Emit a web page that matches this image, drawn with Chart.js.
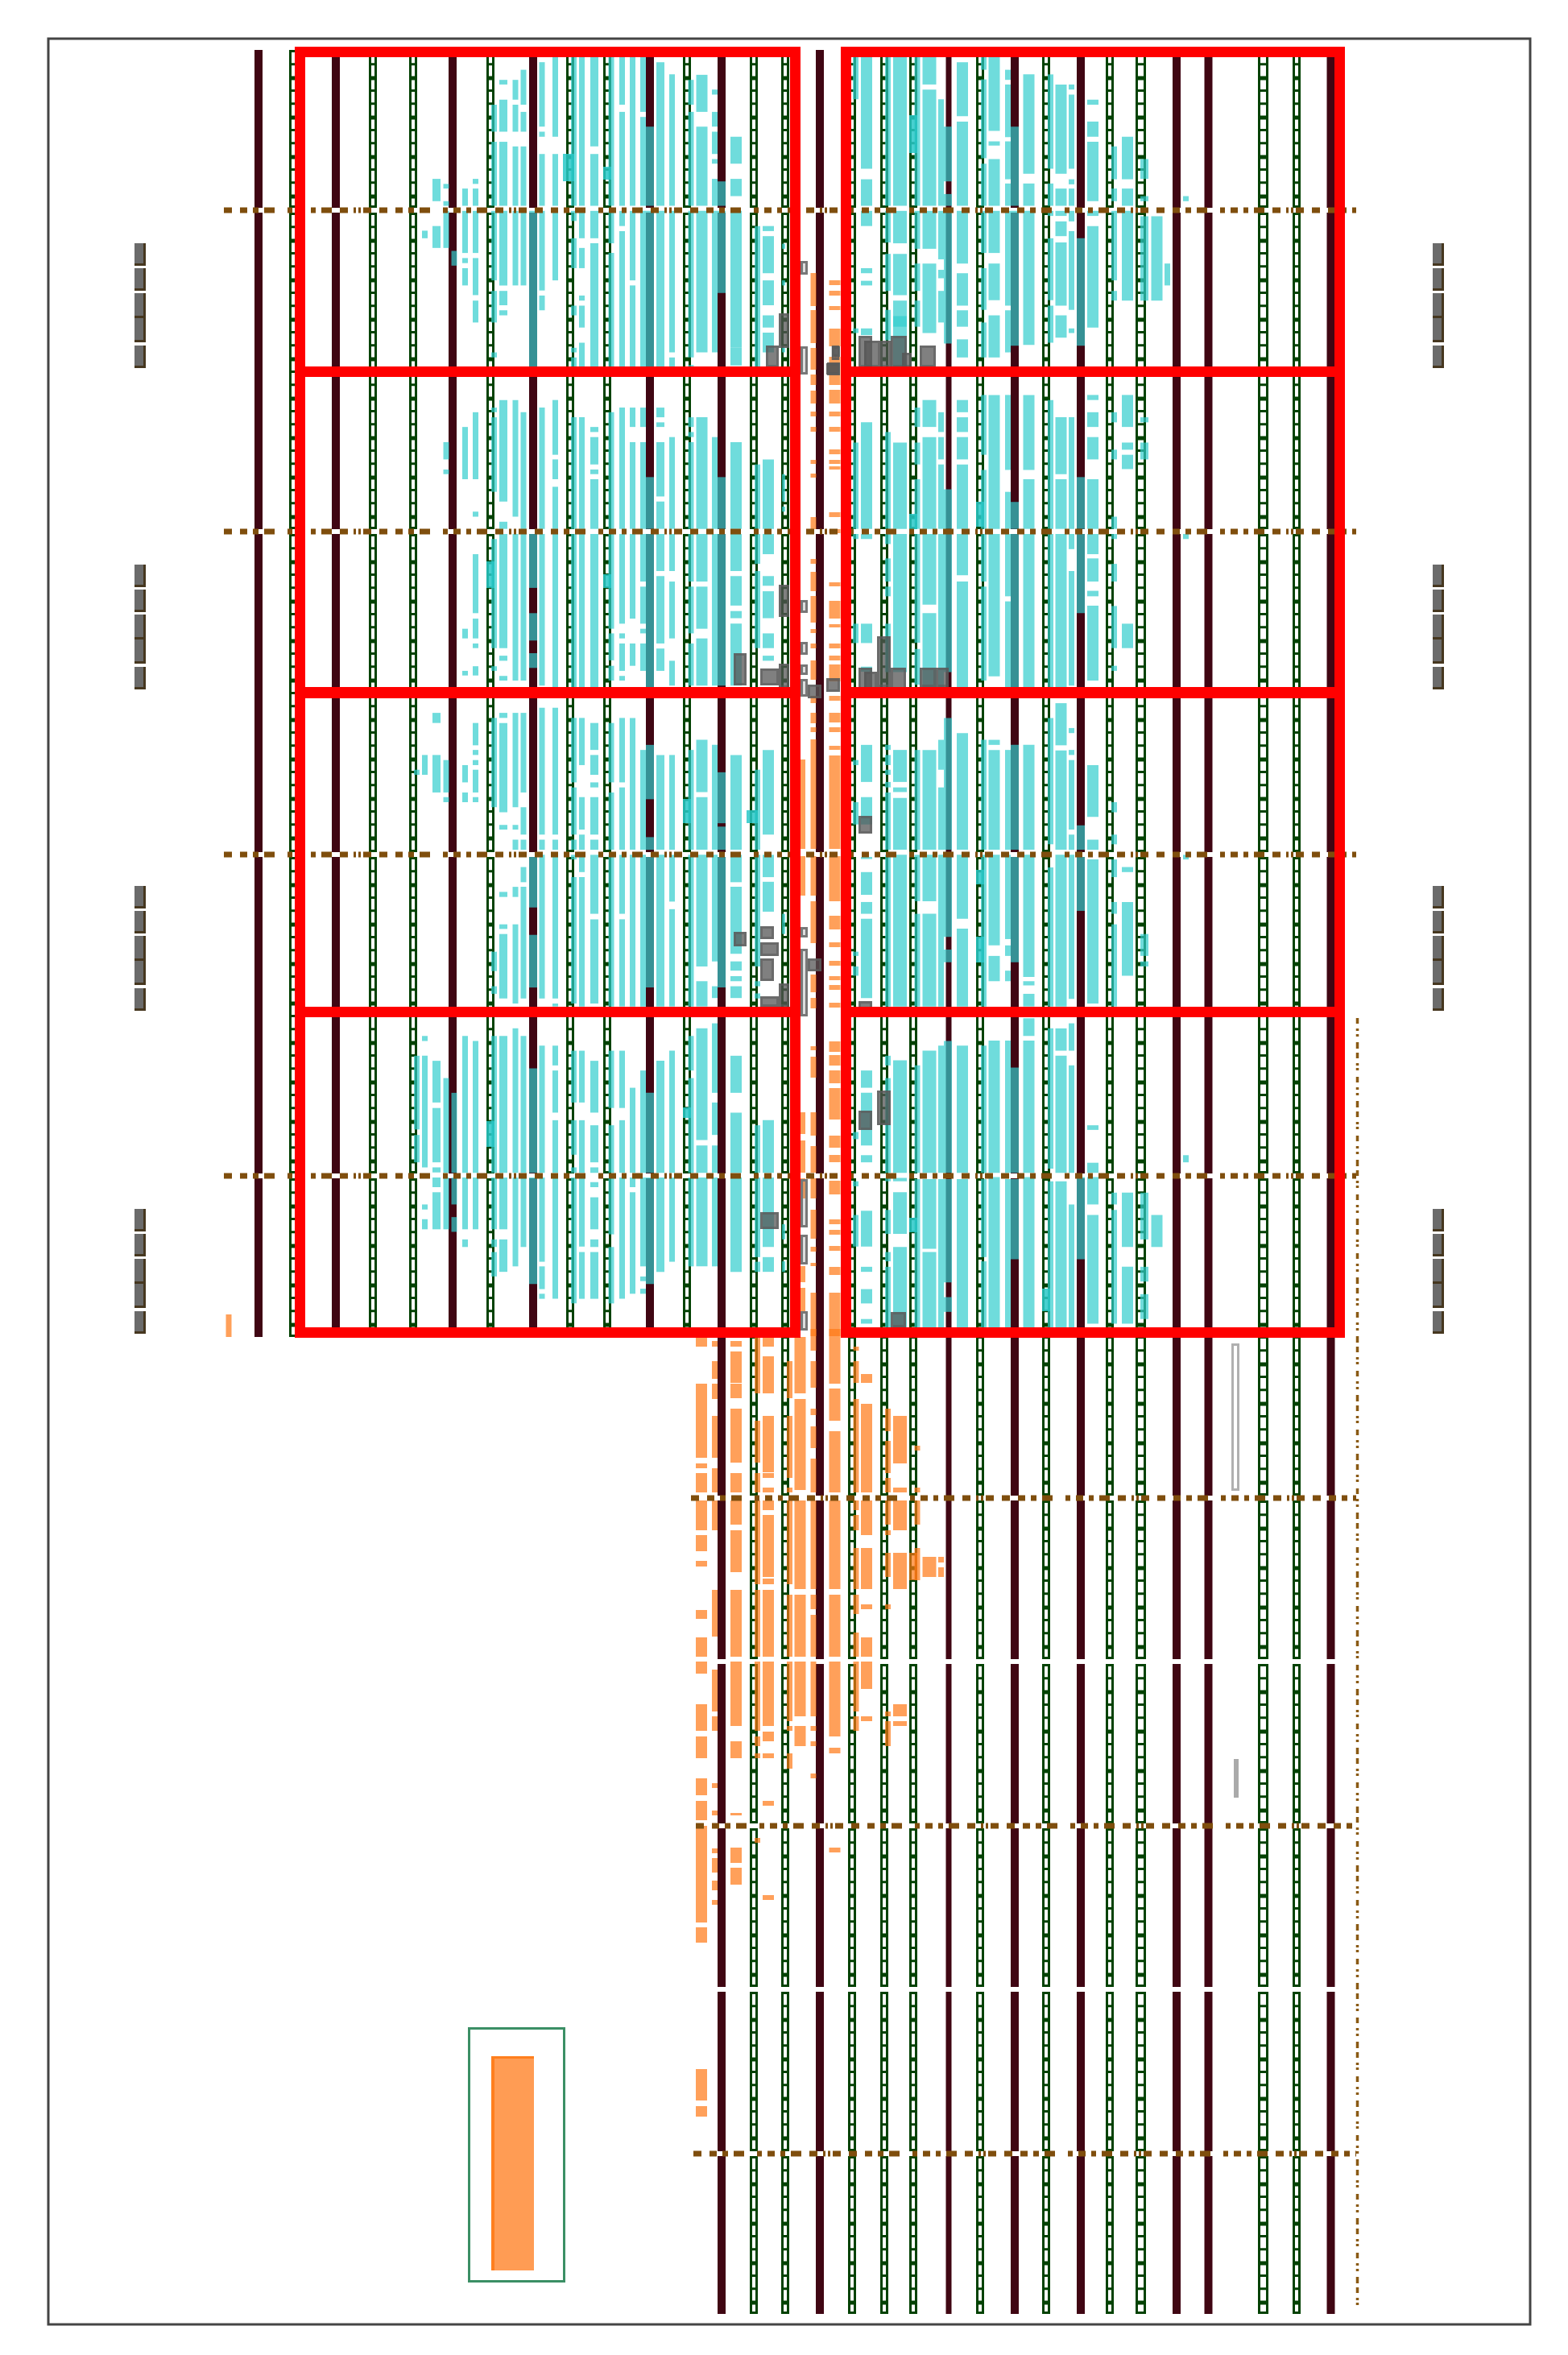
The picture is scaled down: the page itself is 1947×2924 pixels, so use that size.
<!DOCTYPE html>
<html>
<head>
<meta charset="utf-8">
<title>layout</title>
<script src="https://cdn.jsdelivr.net/npm/chart.js@4/dist/chart.umd.min.js"></script>
<style>
  html, body { margin: 0; padding: 0; background: #fff; }
  canvas { display: block; }
</style>
</head>
<body>
<canvas id="chart" width="1947" height="2924"></canvas>
<script>
// ---- layout extents ----
const xRange = [60, 1900];
const yRange = [48, 2886];

// ---- power rails ----
const maroonFullX = [896, 1018, 1178, 1260, 1342, 1461, 1500.5, 1652.5];
const maroonFullW = [10, 10, 7, 10, 10, 10, 10, 10];
const maroonShortX = [321, 417, 562, 662, 807];
const greenFullX = [936, 975, 1058, 1098, 1134, 1217, 1299, 1378, 1416.5, 1568.5, 1610];
const greenFullW = [10, 10, 10, 10, 10, 10, 10, 10, 13, 13, 10];
const greenShortX = [364, 463, 513, 609, 708, 754, 853];
const railSpansFull = [[62,258],[264,657],[663,1058],[1064,1457],[1463,1857],[1863,2060],[2066,2264],[2270,2467],[2473,2671],[2677,2873]];
const railSpansShort = [[62,258],[264,657],[663,1058],[1064,1457],[1463,1660]];

// ---- dotted straps ----
const strapY = [261, 660, 1061, 1460, 1860, 2267, 2674];
const strapFromX = [278, 278, 278, 278, 858, 864, 861];
const strapToX = 1684;
const sideStrapX = 1685.5;
const sideStrapY = [1264, 2863];

// ---- cyan cells, left half; readings in crop units, per column ----
const leftColX = [517.5,527.5,542,554,564,577.5,590.5,613.5,625,640,650,662,673,689.5,712.5,722.5,738,759,772.5,785.5,798.5,807,820,834.5,858,871.5,887.5,896,914,940.5,954,973];
const leftColW = [7,7,10,7,7,7,7,7,10,7,7,10,7,7,7,7,10,7,7,7,7,10,10,7,7,14,7,10,14,7,14,4];
const cyanLeftUpper = [
  [],
  [452,470],
  [329,382,441,493],
  [341,352,382,393,405,493,954,995,1019,1030],
  [500,535],
  [352,393,405,505,517,529,541,582,918,1042,1397,1420,1497,1508],
  [329,341,352,393,405,505,517,605,618,670,883,1042,1119,1131,1220,1360,1373,1420,1432,1443,1486,1508],
  [153,217,241,393,405,570,595,670,741,753,872,883,895,1072,1184,1443,1486,1497],
  [94,105,141,217,241,393,405,582,595,629,641,653,854,1095,1143,1160,1172,1443,1461,1473,1509,1520],
  [94,141,153,217,252,393,405,582,854,1131,1172,1520],
  [70,153,170,217,252,393,405,582,883,1160,1172,1520],
  [405,775,1172,1300,1360,1425,1455,1490],
  [52,205,217,229,270,393,405,594,606,641,872,1160,1172,1532],
  [40,229,270,393,405,570,854,984,995,1042,1060,1160,1172,1537],
  [40,393,405,429,470,541,630,653,730,741,753,775,895,1160,1172,1537],
  [40,393,405,470,493,541,606,618,630,682,718,775,895,1160,1172,1537],
  [40,252,270,393,405,470,482,775,918,930,942,1007,1019,1030,1042,1160,1172,1537],
  [40,393,405,482,505,775,883,1160,1172,1397,1408,1472,1485,1520],
  [40,153,170,393,405,441,453,775,872,1160,1172,1385,1408,1420,1432,1497,1509,1520],
  [40,393,405,570,582,775,872,918,954,1160,1172,1373,1432,1485],
  [40,170,182,393,405,775,872,918,954,1160,1172,1285,1297,1385,1397,1408,1432,1497],
  [205,393,405,775,1037,1160,1172,1537],
  [52,393,405,775,872,895,907,918,954,1083,1095,1160,1172,1260,1272,1432,1444,1497],
  [81,393,405,741,753,775,942,1160,1172,1260,1285,1420,1473,1532],
  [94,153,170,393,405,753,771,775,895,918,930,942,954,1160,1172,1285,1297,1408,1432,1532],
  [82,170,205,393,405,741,895,1160,1172,1285,1297,1397,1420,1532],
  [117,129,170,205,217,270,282,293,329,393,405,741,942,1160,1172,1532],
  [335,393,405,600,1037,1160,1172,1532],
  [229,293,329,370,405,730,730,772,954,1160,1172,1260,1272,1342,1355,1372,1385,1532],
  [441,775,1007,1160,1172,1243,1260,1443],
  [441,453,465,553,570,629,653,682,694,741,995,1160,1172,1220,1272,1295,1308,1372,1408,1443,1461,1473],
  [483,495,570,582,730,741,1030,1095,1107,1119]
];
const cyanLeftLower = [
  [183,195,862,1037,1050,1115],
  [148,195,815,827,862,1127,1215,1227,1250,1274],
  [48,72,148,237,874,973,986,1115,1127,1139,1151,1174,1186,1274],
  [160,237,248,260,915,1140,1151,1274],
  [950,1140,1151,1215,1245,1280],
  [172,213,237,260,815,1140,1151,1274,1298,1316],
  [72,125,136,148,160,172,183,237,248,260,827,1140,1151,1274],
  [60,272,615,661,697,715,815,1140,1151,1274,1298,1316,1328,1386],
  [48,60,72,284,314,325,473,485,550,561,573,726,815,1140,1151,1274,1298,1375],
  [48,272,314,325,349,373,461,485,550,738,797,1140,1151,1362],
  [48,237,272,337,349,373,414,450,461,726,815,1140,1151,1316],
  [390,510,575,700,892,1140,1151,1404],
  [36,337,349,373,385,726,838,1140,1151,1351,1362,1416,1427,1439],
  [36,337,349,373,385,726,738,745,838,885,897,997,1015,1140,1151,1439],
  [60,213,225,337,349,373,385,396,438,738,850,973,1015,1097,1127,1140,1151,1450],
  [60,172,248,325,337,373,385,426,438,745,850,973,1015,1140,1151,1315,1328,1439],
  [72,136,148,195,213,225,248,337,349,373,385,525,538,738,874,997,1027,1115,1127,1140,1162,1174,1198,1274,1298,1316,1328,1439],
  [72,213,237,373,385,745,850,986,1027,1140,1151,1286,1316,1450],
  [60,213,225,373,385,525,538,745,850,986,1015,1140,1151,1439],
  [60,373,385,745,938,1140,1151,1174,1186,1427],
  [136,373,385,745,897,1140,1151,1362,1386,1397,1415,1427],
  [124,253,343,373,390,700,950,1140,1151,1404],
  [148,373,385,745,874,1140,1151,1375],
  [148,373,385,496,514,745,850,1140,1151,1351],
  [136,373,385,745,815,897,915,1140,1151,1362],
  [112,236,248,373,385,650,685,745,797,1062,1075,1140,1151,1362],
  [124,373,385,638,697,725,785,950,973,1050,1075,1140,1151,1362],
  [189,310,318,373,390,700],
  [148,373,385,450,461,620,638,660,673,685,697,725,862,950,997,1140,1151,1375],
  [183,373,385,650,685,697,714,726,1027,1140,1151,1340,1351,1375],
  [136,337,385,438,449,520,1015,1140,1151,1316,1340,1375],
  [525,573,1262,1298,1350,1375]
];

// ---- cyan cells, right half ----
const rightColX = [1062.5,1076,1102.5,1117.5,1139,1154,1168.5,1177,1195,1221.5,1234.5,1251.5,1260,1277.5,1304.5,1317.5,1330.5,1342,1357,1383.5,1400,1421,1436.5,1449.5,1472.5];
const rightColW = [7,14,7,17,7,17,7,10,14,7,14,7,10,14,7,14,7,10,14,7,14,10,14,7,7];
const cyanRightUpper = [
  [40,140,684,695,955,1160,1172,1184,1385,1431],
  [40,305,330,393,405,441,541,553,571,582,684,700,907,1160,1172,1184,1385,1431,1487,1499],
  [40,393,405,480,507,595,640,712,930,1160,1172,1196,1230,1285,1297,1320,1385,1500],
  [40,393,405,482,507,605,618,680,655,775,955,1160,1172,1500],
  [40,393,405,495,530,595,618,680,872,918,955,1007,1042,1160,1172,1430,1445,1530],
  [40,105,117,393,405,495,530,695,854,918,942,1160,1172,1340,1360,1537],
  [140,393,405,520,545,565,595,670,883,930,942,995,1007,1160,1172,1537],
  [205,335,365,393,405,720,1066,1160,1172,1500],
  [52,180,193,393,405,530,553,630,641,680,710,753,854,883,895,930,942,995,1007,1160,1172,1270,1285,1537],
  [40,70,93,280,293,393,405,505,541,640,670,753,842,984,1020,1160,1172,1285,1297,1520],
  [40,215,240,250,282,393,405,505,530,617,653,753,842,1160,1172,1510],
  [70,94,105,230,240,330,340,393,405,630,641,741,842,1020,1072,1160,1172,1320,1332,1537],
  [205,393,405,725,1096,1160,1172,1537],
  [81,317,340,393,405,723,842,1020,1042,1160,1172,1537],
  [81,305,340,393,405,417,470,617,630,718,854,1160,1172,1537],
  [105,317,352,393,405,417,430,465,480,630,653,706,895,1030,1042,1160,1172,1537],
  [105,117,129,305,330,342,352,393,405,430,453,640,684,695,895,1160,1172,1208,1260,1532],
  [470,725,1037,1160,1172,1360],
  [141,153,193,229,241,382,405,417,441,682,842,854,883,918,942,995,1042,1160,1172,1220,1230,1285,1307,1320,1342,1520],
  [252,330,352,382,405,570,595,618,883,907,972,995,1131,1160,1172,1184,1243,1285,1343,1443,1485,1497],
  [229,330,352,393,405,618,842,918,955,972,984,1018,1385,1443],
  [282,329,370,382,418,618,895,907,955,995],
  [418,618],
  [530,582],
  [370,382,1172,1184]
];
const cyanRightLower = [
  [160,172,260,313,615,625,650,672,1043,1060,1160,1172,1240,1315],
  [124,212,248,313,390,395,426,480,497,525,537,725,897,938,950,1075,1098,1115,1230,1315,1363,1375,1416,1450,1487,1498],
  [124,136,148,172,183,195,212,225,237,373,385,745,862,885,915,1140,1152,1160,1228,1285,1328,1350,1363,1507],
  [136,212,225,236,250,373,385,745,873,1140,1152,1160,1186,1285,1316,1507],
  [136,373,385,495,525,745,885,1140,1155,1507],
  [136,373,385,495,525,745,850,1140,1155,1320,1328,1507],
  [112,183,225,373,385,745,838,1140,1155,1507],
  [60,373,385,580,610,640,827,1140,1155,1400,1435,1470],
  [96,373,385,537,560,745,838,1140,1155,1507],
  [112,373,385,745,838,1140,1155,1340,1350,1507],
  [112,124,136,373,385,600,625,685,826,1140,1150,1507],
  [136,373,385,585,600,625,660,685,826,1140,1155,1507],
  [124,373,390,640,890,1140,1155,1345],
  [124,373,385,675,685,695,715,745,773,815,826,1140,1150,1507],
  [60,360,415,745,797,1130,1160,1507],
  [25,125,137,373,385,745,797,850,862,1140,1160,1507],
  [84,96,136,148,160,325,337,373,385,727,785,850,885,1140,1215,1507],
  [315,373,390,518,1150,1345],
  [172,295,349,373,396,738,1027,1038,1116,1140,1150,1215,1240,1498],
  [260,284,337,360,396,438,497,525,550,745,1187,1215,1228,1498],
  [414,426,497,672,1187,1316,1363,1498],
  [573,625,638,650,1187,1298,1363,1398,1428,1487],
  [1240,1316],
  [],
  [385,396,1098,1115]
];

// bright spots where cells sit on the rails
const cyanSpotX = [706,754,609,754,1134,1217,1134,853,934,609,853,1217,1217,1134,1299];
const cyanSpotW = [14,10,10,10,10,10,10,10,14,10,10,10,10,10,10];
const cyanSpotY = [[191,225],[207,223],[697,730],[713,730],[143,190],[623,654],[638,657],[992,1022],[1006,1022],[1392,1424],[1375,1388],[1080,1098],[1163,1195],[1512,1530],[1600,1628]];

// ---- orange cells ----
const orangeColX = [871,887.5,914,940.5,954,980.5,993.5,1010,1036.5,1063,1076,1102.5,1117.5,1139,1154,1168.5];
const orangeColW = [14,7,14,7,14,7,14,7,14,7,14,7,17,7,17,7];
const orangeCells = [
  [1661,1672,1718,1810,1817,1823,1829,1853,1863,1900,1906,1926,1938,1945,1999,2010,2033,2057,2063,2078,2116,2125,2125,2149,2156,2177,2177,2183,2208,2229,2236,2260,2267,2295,2295,2359,2359,2387,2393,2412,2569,2608,2615,2628],
  [1665,1672,1690,1712,1718,1737,1758,1810,1823,1853,1863,1900,1974,2032,2073,2125,2131,2149,2214,2220,2248,2254,2295,2301,2307,2325,2335,2347,2359,2365],
  [1665,1672,1678,1717,1718,1736,1749,1816,1829,1853,1863,1893,1900,1952,1974,2057,2063,2143,2162,2183,2251,2254,2294,2313,2319,2340],
  [1660,1730,1764,1816,1829,1853,1863,1967,1974,2057,2063,2149,2156,2168,2177,2183,2282,2288],
  [1660,1672,1684,1730,1758,1828,1829,1835,1847,1853,1863,1875,1881,1958,1960,1967,1974,2057,2063,2143,2150,2162,2177,2183,2236,2242,2353,2359],
  [1690,1736,1758,1835,1847,1853,1863,1967,1980,2057,2063,2137,2143,2149,2177,2196],
  [1660,1730,1737,1850,1863,1973,1980,2057,2063,2131,2143,2168],
  [1650,1677,1690,1723,1749,1757,1771,1798,1811,1853,1863,1973,1980,1998,2005,2057,2063,2131,2143,2149,2162,2168,2202,2208],
  [1650,1718,1724,1764,1777,1853,1863,1973,1980,2057,2063,2156,2170,2177,2294,2300],
  [1672,1677,1690,1717,1737,1853,1863,1875,1881,1900,1922,1973,1980,2004,2027,2057,2063,2125,2131,2149],
  [1706,1717,1743,1853,1863,1906,1922,1973,1992,1998,2033,2057,2063,2097,2131,2137],
  [1749,1777,1789,1829,1835,1853,1863,1893,1900,1906,1928,1958,1992,1998,2125,2131,2137,2168],
  [1758,1783,1783,1789,1789,1817,1847,1853,1863,1900,1928,1973,2116,2131,2137,2143],
  [1795,1801,1847,1853,1863,1893,1922,1962],
  [1933,1958],
  [1933,1940,1946,1958]
];
// strip between the two red columns
const stripColX = [996.5,1010,1036.5];
const stripColW = [7,7,14];
const stripCells = [
  [943,1054,1063,1112,1381,1408,1416,1456,1463,1488,1572,1592,1599,1631],
  [339,380,385,426,432,459,465,478,485,501,511,517,530,536,571,576,588,593,642,657,694,700,710,734,740,773,781,786,799,805,820,844,864,873,885,898,903,909,918,1054,1063,1112,1119,1171,1210,1232,1239,1252,1299,1304,1312,1338,1381,1410,1423,1456,1463,1488,1502,1538,1548,1554,1568,1572,1605,1659],
  [348,354,361,367,380,385,408,430,443,478,484,501,511,517,530,536,558,564,571,576,579,583,636,642,657,662,723,728,746,752,752,768,775,779,799,805,814,820,825,846,864,870,885,897,903,909,926,931,938,1054,1063,1089,1089,1119,1137,1143,1143,1154,1170,1176,1193,1199,1212,1217,1223,1229,1245,1251,1293,1306,1310,1323,1329,1345,1351,1390,1410,1425,1434,1443,1466,1483,1514,1520,1527,1533,1547,1553,1573,1583,1605,1659]
];
const orangeSpotX = [1134, 284];
const orangeSpotW = [10, 7];
const orangeSpotY = [[1928,1962],[1632,1660]];

// ---- grey blocks: centre, width, from, to ----
const greyX = [973.5,959,1037.5,1035,1074.5,1083,1100,1116,1126,1152,973.5,973.5,919,955.5,1074.5,1081,1097.5,1115.5,1152,1170,919,952.5,955.5,952.5,955.5,973.5,955.5,1074.5,1074.5,1074.5,1097.5,1115.5,1011.5,1011.5,1034.5,1038,1034.5];
const greyW = [13,16,10,16,17,20,14,20,12,20,13,13,16,23,17,16,17,19,20,16,16,17,23,17,23,13,23,17,17,17,17,19,17,17,17,10,17];
const greyY = [[389,432],[429,456],[429,447],[450,466],[417,456],[423,456],[423,456],[417,456],[438,456],[429,456],[726,766],[824,854],[811,851],[830,851],[829,866],[834,866],[790,853],[829,866],[829,853],[829,853],[1157,1175],[1150,1166],[1170,1187],[1190,1218],[1237,1250],[1221,1250],[1505,1526],[1013,1035],[1243,1262],[1379,1403],[1354,1397],[1629,1648],[850,867],[1190,1206],[842,859],[430,443],[451,465]];
const stackX = 998.5;
const stackY = [[324,341],[430,465],[745,761],[797,813],[825,838],[843,865],[1151,1164],[1178,1262],[1464,1524],[1533,1570],[1628,1652]];

// ---- pads on both sides, one group per block ----
const padX = [174, 1786];
const padY = [[302,330],[333,361],[364,395],[395,425],[429,457],[701,729],[732,760],[763,794],[794,824],[828,856],[1100,1128],[1131,1159],[1162,1193],[1193,1223],[1227,1255],[1501,1529],[1532,1560],[1563,1594],[1594,1624],[1628,1656]];

// ---- red region boxes ----
const redX = [680, 1357];
const redW = [628, 626];
const redY = [[58,468],[455,866],[854,1263],[1250,1661]];

// ---- single outlines ----
const gateX = 641.5;
const gateW = 121;
const gateY = [2517, 2834];
const fillX = 636.5;
const fillW = 53;
const fillY = [2553, 2819];
const markerOpenX = 1534;
const markerOpenY = [1668, 1851];
const markerSolidX = 1535;
const markerSolidY = [2184, 2232];

const CYAN = "rgba(50,205,205,0.7)";
const ORANGE = "rgba(255,120,20,0.7)";
const MAROON = "#400613";
const GREEN = "#034203";
const BROWN = "#7f4e0d";
const RED = "#ff0000";

// ---- helpers ----
function pairs(list){
  const out = [];
  for (let i = 0; i < list.length; i += 2) out.push([list[i], list[i + 1]]);
  return out;
}
function barSet(x, width, spans, style){
  return Object.assign({
    type: "bar",
    grouped: false,
    inflateAmount: 0,
    barThickness: width,
    borderWidth: 0,
    borderSkipped: false,
    data: spans.map(s => ({ x, y: s })),
  }, style);
}
function lineSet(points, style){
  return Object.assign({
    type: "line",
    pointRadius: 0,
    tension: 0,
    fill: false,
    borderCapStyle: "butt",
    data: points,
  }, style);
}
// crops were read at 1.912 units per layout unit
const fromCrop = (base) => (v) => base + v / 1.912;

function cyanSets(colX, colW, upper, lower){
  return colX.map((x, i) => {
    const spans = pairs(upper[i].map(fromCrop(50))).concat(pairs(lower[i].map(fromCrop(860))));
    return barSet(x, colW[i], spans, { backgroundColor: CYAN });
  });
}
function railPoints(x, spans){
  const pts = [];
  spans.forEach(s => { pts.push({ x, y: s[0] }, { x, y: s[1] }, { x, y: null }); });
  return pts;
}
function greenRail(x, width, spans){
  return [
    lineSet(railPoints(x, spans), { borderColor: GREEN, borderWidth: width, borderDash: [3, 13.3, 3, 13.3, 5, 11.4] }),
    barSet(x, width, spans, { backgroundColor: "rgba(0,0,0,0)", borderColor: GREEN, borderWidth: 3 }),
  ];
}

// first dataset in the list ends up on top
const datasets = [];
redX.forEach((x, i) => {
  datasets.push(barSet(x, redW[i], redY, { backgroundColor: "rgba(0,0,0,0)", borderColor: RED, borderWidth: 13 }));
});
strapY.forEach((y, i) => {
  datasets.push(lineSet([{ x: strapFromX[i], y }, { x: strapToX, y }], {
    borderColor: BROWN, borderWidth: 7,
    borderDash: [10,10,9,7,7,7,13,16,6,7,9,7,6,7,13,10,10,7,3,3,3,3,10,10],
  }));
});
datasets.push(lineSet([{ x: sideStrapX, y: sideStrapY[0] }, { x: sideStrapX, y: sideStrapY[1] }], {
  borderColor: "#8a5a14", borderWidth: 3.5, borderDash: [7,6,3,4,3,7,8,5,7,6,3,3,3,8],
}));
datasets.push(barSet(stackX, 9, stackY, { backgroundColor: "rgba(120,120,120,0.25)", borderColor: "#777", borderWidth: 3 }));
greyX.forEach((x, i) => {
  datasets.push(barSet(x, greyW[i], [greyY[i]], { backgroundColor: "rgba(85,85,85,0.75)", borderColor: "rgba(90,90,90,0.9)", borderWidth: 3 }));
});
cyanSpotX.forEach((x, i) => {
  datasets.push(barSet(x, cyanSpotW[i], [cyanSpotY[i]], { backgroundColor: "rgba(40,200,200,0.85)" }));
});
datasets.push(...cyanSets(leftColX, leftColW, cyanLeftUpper, cyanLeftLower));
datasets.push(...cyanSets(rightColX, rightColW, cyanRightUpper, cyanRightLower));
orangeSpotX.forEach((x, i) => {
  datasets.push(barSet(x, orangeSpotW[i], [orangeSpotY[i]], { backgroundColor: ORANGE }));
});
orangeColX.forEach((x, i) => {
  datasets.push(barSet(x, orangeColW[i], pairs(orangeCells[i]), { backgroundColor: ORANGE }));
});
stripColX.forEach((x, i) => {
  datasets.push(barSet(x, stripColW[i], pairs(stripCells[i]), { backgroundColor: ORANGE }));
});
greenFullX.forEach((x, i) => { datasets.push(...greenRail(x, greenFullW[i], railSpansFull)); });
greenShortX.forEach((x) => { datasets.push(...greenRail(x, 10, railSpansShort)); });
maroonFullX.forEach((x, i) => {
  datasets.push(barSet(x, maroonFullW[i], railSpansFull, { backgroundColor: MAROON }));
});
maroonShortX.forEach((x) => {
  datasets.push(barSet(x, 10, railSpansShort, { backgroundColor: MAROON }));
});
padX.forEach((x) => {
  datasets.push(barSet(x, 14, padY, {
    backgroundColor: "#6b6b6b", borderColor: "#46371f",
    borderWidth: { right: 3, bottom: 3, left: 0, top: 0 },
  }));
});
datasets.push(barSet(fillX, fillW, [fillY], {
  backgroundColor: "#ff9c54", borderColor: "#ff7f1e",
  borderWidth: { left: 4, top: 3, right: 0, bottom: 0 },
}));
datasets.push(barSet(gateX, gateW, [gateY], { backgroundColor: "rgba(0,0,0,0)", borderColor: "#3b8f65", borderWidth: 3 }));
datasets.push(barSet(markerOpenX, 10, [markerOpenY], { backgroundColor: "rgba(0,0,0,0)", borderColor: "#b0b0b0", borderWidth: 3 }));
datasets.push(barSet(markerSolidX, 6, [markerSolidY], { backgroundColor: "#aaaaaa" }));

// caja del dibujo
const framePlugin = {
  id: "frame",
  afterDraw(chart){
    const { ctx, chartArea: a } = chart;
    ctx.save();
    ctx.strokeStyle = "#444444";
    ctx.lineWidth = 3;
    ctx.strokeRect(a.left, a.top, a.right - a.left, a.bottom - a.top);
    ctx.restore();
  },
};

new Chart(document.getElementById("chart").getContext("2d"), {
  type: "bar",
  data: { datasets },
  plugins: [framePlugin],
  options: {
    responsive: false,
    animation: false,
    parsing: true,
    layout: { padding: { left: xRange[0], right: 1947 - xRange[1], top: yRange[0], bottom: 2924 - yRange[1] } },
    plugins: { legend: { display: false }, tooltip: { enabled: false } },
    scales: {
      x: { type: "linear", display: false, min: xRange[0], max: xRange[1], offset: false },
      y: { type: "linear", display: false, min: yRange[0], max: yRange[1], reverse: true },
    },
  },
});
</script>
</body>
</html>
